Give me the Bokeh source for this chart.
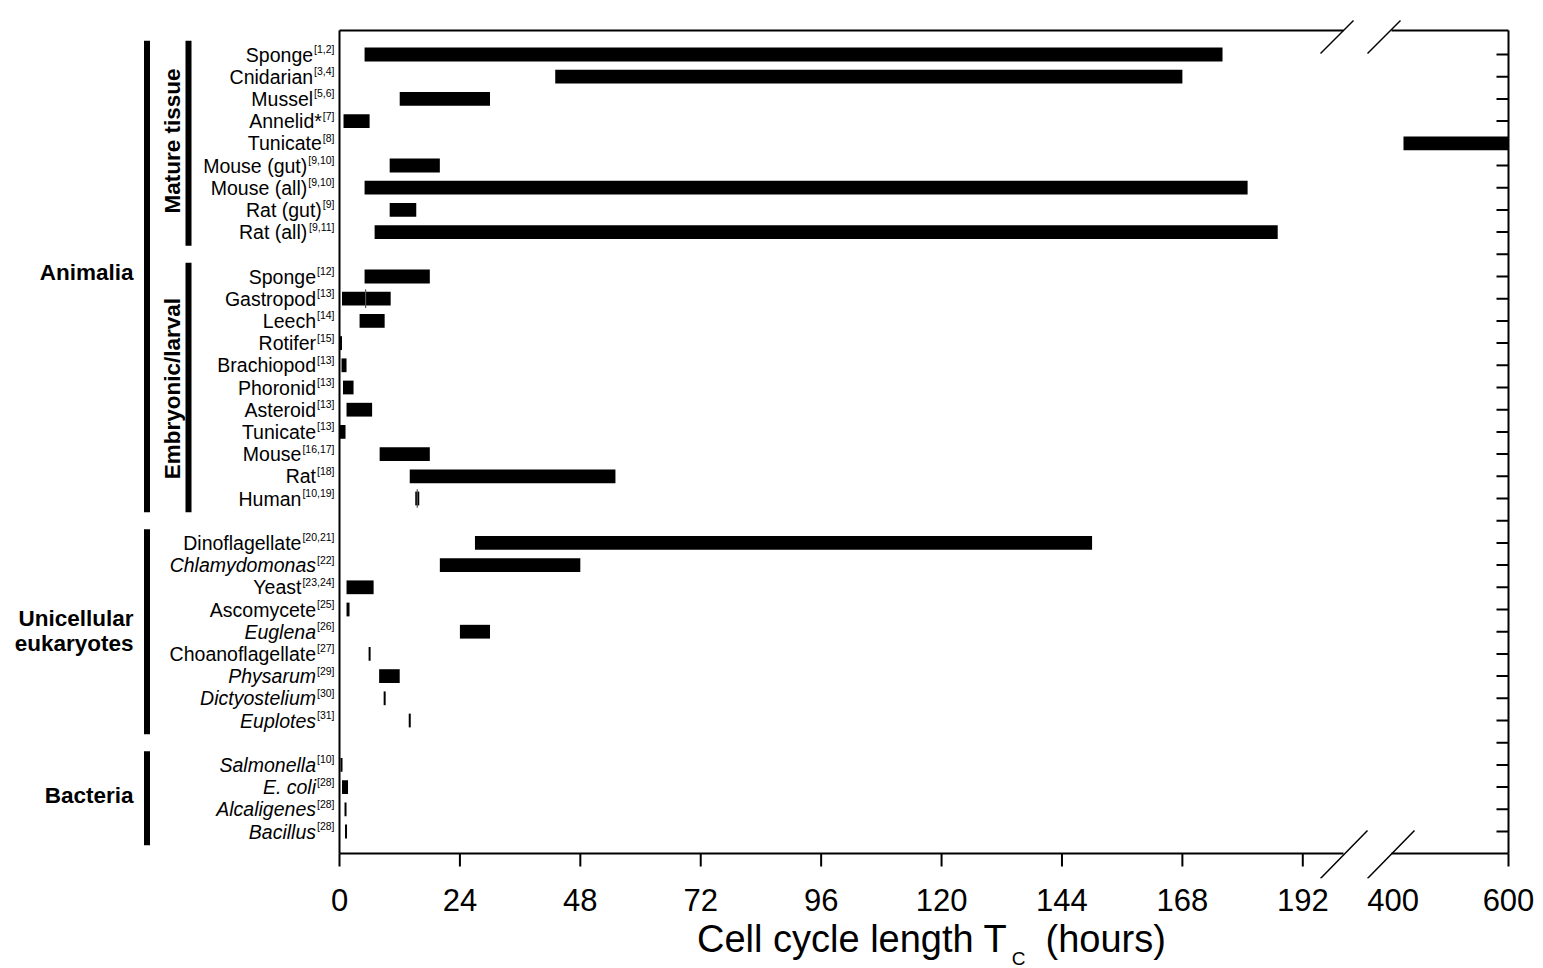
import math
from bokeh.plotting import figure
from bokeh.layouts import column
from bokeh.models import Range1d, FixedTicker, ColumnDataSource, Div
from bokeh.core.properties import value
from bokeh.embed import file_html
from bokeh.resources import INLINE

# ---------------- data ----------------
mature_names = ["Sponge", "Cnidarian", "Mussel", "Annelid*", "Tunicate",
                "Mouse (gut)", "Mouse (all)", "Rat (gut)", "Rat (all)"]
mature_refs = ["[1,2]", "[3,4]", "[5,6]", "[7]", "[8]", "[9,10]", "[9,10]", "[9]", "[9,11]"]
mature_italic = [False] * 9
mature_lo = [5, 43, 12, 0.8, 418, 10, 5, 10, 7]
mature_hi = [176, 168, 30, 6, 600, 20, 181, 15.3, 187]

embryo_names = ["Sponge", "Gastropod", "Leech", "Rotifer", "Brachiopod", "Phoronid",
                "Asteroid", "Tunicate", "Mouse", "Rat", "Human"]
embryo_refs = ["[12]", "[13]", "[14]", "[15]", "[13]", "[13]", "[13]", "[13]",
               "[16,17]", "[18]", "[10,19]"]
embryo_italic = [False] * 11
embryo_lo = [5, 0.5, 4, 0, 0.4, 0.7, 1.4, 0, 8, 14, 15.1]
embryo_hi = [18, 10.2, 9, 0.5, 1.4, 2.8, 6.5, 1.2, 18, 55, 15.9]

uni_names = ["Dinoflagellate", "Chlamydomonas", "Yeast", "Ascomycete", "Euglena",
             "Choanoflagellate", "Physarum", "Dictyostelium", "Euplotes"]
uni_refs = ["[20,21]", "[22]", "[23,24]", "[25]", "[26]", "[27]", "[29]", "[30]", "[31]"]
uni_italic = [False, True, False, False, True, False, True, True, True]
uni_lo = [27, 20, 1.4, 1.4, 24, 5.8, 7.9, 8.8, 13.8]
uni_hi = [150, 48, 6.8, 2.0, 30, 6.2, 12, 9.2, 14.2]

bact_names = ["Salmonella", "E. coli", "Alcaligenes", "Bacillus"]
bact_refs = ["[10]", "[28]", "[28]", "[28]"]
bact_italic = [True] * 4
bact_lo = [0.2, 0.5, 1.0, 1.1]
bact_hi = [0.6, 1.7, 1.4, 1.5]

# single-value markers drawn across two of the bars
mark_names = ["Gastropod", "Human"]
mark_values = [5.2, 15.5]

x_ticks_low = [0, 24, 48, 72, 96, 120, 144, 168, 192]
x_ticks_high = [400, 600]

# ---------------- geometry (pixels of the page) ----------------
W = 1543
MAIN_H = 920
BOX_L, BOX_R, BOX_T, BOX_B = 339, 1508, 30, 853
FRAME_T, FRAME_B, FRAME_R = 18, 878, 1512
ROW1_PX, ROW_PX = 54, 22.2
X_MAX = 233.0          # display units of the box's right edge (600 h)
T400 = 210.0           # display position of 400 h
K_HIGH = (X_MAX - T400) / 200.0
PXU = (BOX_R - BOX_L) / X_MAX


def tx(v):
    return v if v < 300 else T400 + (v - 400) * K_HIGH


def px2x(px):
    return (px - BOX_L) / PXU


def py2y(py):
    return 1 + (py - ROW1_PX) / ROW_PX


FONT = "Liberation Sans"
SUP = 10.5
CW = {"[": 0.278, "]": 0.278, ",": 0.278}


def sup_w(s):
    return sum(CW.get(c, 0.556) for c in s) * SUP


blocks = [
    (mature_names, mature_refs, mature_italic, mature_lo, mature_hi),
    (embryo_names, embryo_refs, embryo_italic, embryo_lo, embryo_hi),
    (uni_names, uni_refs, uni_italic, uni_lo, uni_hi),
    (bact_names, bact_refs, bact_italic, bact_lo, bact_hi),
]

names, refs, styles, lefts, rights, rows = [], [], [], [], [], []
group_rows = []
r = 1
for g_names, g_refs, g_it, g_lo, g_hi in blocks:
    first = r
    for i in range(len(g_names)):
        names.append(g_names[i])
        refs.append(g_refs[i])
        styles.append("italic" if g_it[i] else "normal")
        lefts.append(tx(g_lo[i]))
        rights.append(tx(g_hi[i]))
        rows.append(r)
        r += 1
    group_rows.append((first, r - 1))
    r += 1
all_rows = list(range(1, r - 1))

p = figure(width=W, height=MAIN_H, title=None,
           x_range=Range1d(px2x(0), px2x(FRAME_R)),
           y_range=Range1d(py2y(FRAME_B), py2y(FRAME_T)),
           output_backend="svg", toolbar_location=None, y_axis_location=None,
           min_border_left=0, min_border_right=W - FRAME_R,
           min_border_top=FRAME_T, min_border_bottom=MAIN_H - FRAME_B)
p.grid.visible = False
p.outline_line_color = None
p.background_fill_color = "white"
p.border_fill_color = "white"

# bars
bar_src = ColumnDataSource(dict(y=rows, left=lefts, right=rights))
p.hbar(y="y", left="left", right="right", height=0.62, source=bar_src,
       fill_color="black", line_color=None)

# markers on gastropod / human (embryonic block)
e_first = group_rows[1][0]
mrow = [e_first + embryo_names.index(n) for n in mark_names]
p.segment(x0=mark_values, x1=mark_values, y0=[y - 0.42 for y in mrow], y1=[y + 0.42 for y in mrow],
          line_width=1.2, line_color="#555555")

# box with axis break
YT, YB = py2y(BOX_T), py2y(BOX_B)
XR = tx(x_ticks_high[-1])
BA, BB = px2x(1343), px2x(1391)
p.segment(x0=[0, XR, 0, BB, 0, BB], y0=[YT, YT, YT, YT, YB, YB],
          x1=[0, XR, BA, XR, BA, XR], y1=[YB, YB, YT, YT, YB, YB],
          line_width=2, line_color="black")
# break marks
p.segment(x0=[px2x(1320), px2x(1367), px2x(1320), px2x(1367)],
          y0=[py2y(53), py2y(53), py2y(878), py2y(878)],
          x1=[px2x(1353), px2x(1400), px2x(1367), px2x(1414)],
          y1=[py2y(20), py2y(20), py2y(830), py2y(830)],
          line_width=1.5, line_color="black")

# tick marks: bottom (outward, no mark at 400) and right (inward, every row)
tick_x = x_ticks_low + [XR]
p.segment(x0=tick_x, x1=tick_x, y0=[YB] * len(tick_x), y1=[py2y(866)] * len(tick_x),
          line_width=2, line_color="black")
p.segment(x0=[px2x(BOX_R - 12)] * len(all_rows), x1=[XR] * len(all_rows),
          y0=all_rows, y1=all_rows, line_width=2, line_color="black")

# bottom axis: labels only
xa = p.xaxis[0]
xa.ticker = FixedTicker(ticks=x_ticks_low + [tx(v) for v in x_ticks_high])
xa.major_label_overrides = {tx(v): str(v) for v in x_ticks_high}
xa.axis_line_color = None
xa.major_tick_in = 0
xa.major_tick_out = 0
xa.minor_tick_line_color = None
xa.major_label_standoff = 10
xa.major_label_text_font = FONT
xa.major_label_text_font_size = "31px"
xa.major_label_text_color = "black"

# row labels with superscript references
name_src = ColumnDataSource(dict(x=[0] * len(names), y=rows, text=names, style=styles,
                                 xo=[-(6 + sup_w(s)) for s in refs]))
p.text(x="x", y="y", text="text", source=name_src, x_offset="xo",
       text_align="right", text_baseline="middle", text_font=value(FONT),
       text_font_size="19.5px", text_font_style="style", text_color="black")
ref_src = ColumnDataSource(dict(x=[0] * len(refs), y=[v - 0.25 for v in rows], text=refs))
p.text(x="x", y="y", text="text", source=ref_src, x_offset=-5,
       text_align="right", text_baseline="middle", text_font=value(FONT),
       text_font_size=f"{SUP}px", text_color="black")

# hierarchy brackets
(m0, m1), (e0, e1), (u0, u1), (b0, b1) = group_rows
spans = [(m0, e1), (u0, u1), (b0, b1), (m0, m1), (e0, e1)]
bx = [px2x(146.5)] * 3 + [px2x(188)] * 2
p.segment(x0=bx, x1=bx, y0=[a - 0.62 for a, b in spans], y1=[b + 0.62 for a, b in spans],
          line_width=6, line_color="black", line_cap="butt")

GB = dict(text_font=value(FONT), text_font_size="22.5px", text_font_style="bold",
          text_color="black", text_baseline="middle")
gx = px2x(133)
p.text(x=[gx] * 4,
       y=[(m0 + e1) / 2 - 0.2, (u0 + u1) / 2 - 0.6, (u0 + u1) / 2 + 0.55, (b0 + b1) / 2 - 0.1],
       text=["Animalia", "Unicellular", "eukaryotes", "Bacteria"],
       text_align="right", **GB)
rx = px2x(172)
p.text(x=[rx, rx], y=[(m0 + m1) / 2 - 0.1, (e0 + e1) / 2 + 0.05],
       text=["Mature tissue", "Embryonic/larval"], angle=math.pi / 2,
       text_align="center", **GB)

# axis title with a real subscript, as HTML text below the plot
TH = 968 - MAIN_H
title_html = (
    '<div style="margin-left:697px; margin-top:-5px; white-space:nowrap;">'
    'Cell cycle length T'
    '<span style="font-size:19px; position:relative; top:13px; margin-left:5px;">C</span>'
    '<span style="margin-left:20px;">(hours)</span></div>'
)
title_div = Div(text=title_html, width=W, height=TH, margin=0,
                styles={"font-family": "'Liberation Sans', Arial, sans-serif",
                        "font-size": "38px", "line-height": "38px", "color": "black",
                        "overflow": "visible"})

open("out.html", "w").write(file_html(column(p, title_div), INLINE))
